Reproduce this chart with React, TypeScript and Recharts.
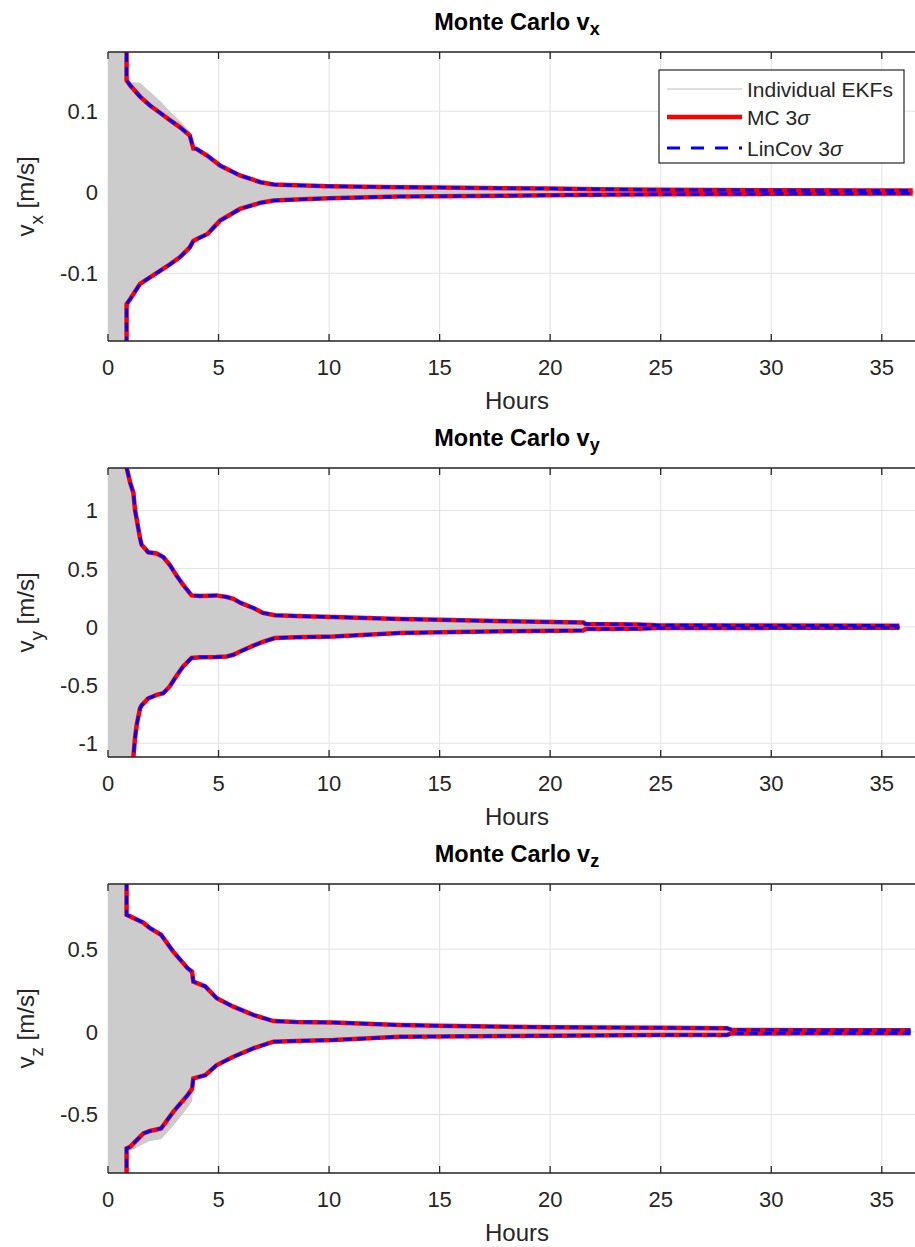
import React from 'react';
import { ComposedChart, Area, Line, XAxis, YAxis, CartesianGrid } from 'recharts';

const hourTicks = [0, 5, 10, 15, 20, 25, 30, 35];

// v_x : 3-sigma envelopes (m/s) against elapsed hours
const vxHours = [0, 0.84, 0.84, 1.0, 1.45, 1.9, 2.35, 2.8, 3.26, 3.7, 3.86, 4.0, 4.5, 5.07, 5.97, 6.9, 7.5, 8.5, 10, 13.2, 15, 18, 20, 22, 25, 30, 36.4];
const vxMcHi = [null, 0.5, 0.138, 0.132, 0.118, 0.107, 0.098, 0.089, 0.08, 0.07, 0.054, 0.0535, 0.045, 0.033, 0.0207, 0.0124, 0.0095, 0.0085, 0.0075, 0.0062, 0.0058, 0.005, 0.0045, 0.0038, 0.003, 0.0025, 0.002];
const vxMcLo = [null, -0.5, -0.138, -0.132, -0.113, -0.105, -0.097, -0.089, -0.08, -0.068, -0.06, -0.058, -0.0515, -0.035, -0.0206, -0.013, -0.0103, -0.009, -0.0075, -0.0053, -0.005, -0.0042, -0.0038, -0.003, -0.0025, -0.002, -0.0015];
const vxLinHi = [null, 0.5, 0.138, 0.132, 0.118, 0.107, 0.098, 0.089, 0.08, 0.07, 0.054, 0.0535, 0.045, 0.033, 0.0207, 0.0124, 0.0095, 0.0085, 0.0075, 0.0062, 0.0058, 0.005, 0.0045, 0.0038, 0.003, 0.0025, 0.002];
const vxLinLo = [null, -0.5, -0.138, -0.132, -0.113, -0.105, -0.097, -0.089, -0.08, -0.068, -0.06, -0.058, -0.0515, -0.035, -0.0206, -0.013, -0.0103, -0.009, -0.0075, -0.0053, -0.005, -0.0042, -0.0038, -0.003, -0.0025, -0.002, -0.0015];
const vxEkfHi = [1, 1, 0.138, 0.136, 0.135, 0.124, 0.113, 0.1, 0.088, 0.075, 0.058, 0.055, 0.045, 0.032, 0.02, 0.012, 0.009, 0.008, 0.007, 0.0058, 0.0054, 0.0046, 0.0042, 0.0035, 0.0028, 0.0022, 0.0018];
const vxEkfLo = [-1, -1, -0.138, -0.132, -0.113, -0.105, -0.097, -0.089, -0.08, -0.068, -0.06, -0.058, -0.0515, -0.034, -0.02, -0.0125, -0.0098, -0.0085, -0.007, -0.005, -0.0046, -0.0039, -0.0035, -0.0028, -0.0022, -0.0018, -0.0013];

// v_y
const vyHours = [0, 0.7, 0.84, 1.0, 1.15, 1.22, 1.3, 1.45, 1.52, 1.82, 2.2, 2.5, 2.8, 3.1, 3.4, 3.78, 4.16, 4.9, 5.37, 5.67, 6.0, 6.6, 7.0, 7.55, 8.5, 10.2, 13.2, 15, 18, 21.5, 21.6, 24, 24.8, 30, 35.8];
const vyMcHi = [null, 2.2, 1.37, 1.24, 1.149, 1.006, 0.92, 0.76, 0.705, 0.64, 0.63, 0.6, 0.53, 0.44, 0.36, 0.27, 0.265, 0.27, 0.256, 0.24, 0.205, 0.16, 0.12, 0.1, 0.092, 0.084, 0.067, 0.06, 0.048, 0.038, 0.025, 0.02, 0.013, 0.012, 0.01];
const vyMcLo = [null, -3, -2, -1.45, -1.113, -0.96, -0.84, -0.7, -0.675, -0.615, -0.585, -0.57, -0.51, -0.42, -0.34, -0.268, -0.262, -0.26, -0.254, -0.24, -0.21, -0.16, -0.13, -0.096, -0.09, -0.084, -0.053, -0.047, -0.038, -0.031, -0.019, -0.016, -0.011, -0.009, -0.008];
const vyLinHi = [null, 2.2, 1.37, 1.24, 1.149, 1.006, 0.92, 0.76, 0.705, 0.64, 0.63, 0.6, 0.53, 0.44, 0.36, 0.27, 0.265, 0.27, 0.256, 0.24, 0.205, 0.16, 0.12, 0.1, 0.092, 0.084, 0.067, 0.06, 0.048, 0.038, 0.025, 0.02, 0.013, 0.012, 0.01];
const vyLinLo = [null, -3, -2, -1.45, -1.113, -0.96, -0.84, -0.7, -0.675, -0.615, -0.585, -0.57, -0.51, -0.42, -0.34, -0.268, -0.262, -0.26, -0.254, -0.24, -0.21, -0.16, -0.13, -0.096, -0.09, -0.084, -0.053, -0.047, -0.038, -0.031, -0.019, -0.016, -0.011, -0.009, -0.008];
const vyEkfHi = [3, 2.2, 1.37, 1.24, 1.149, 1.0, 0.91, 0.75, 0.7, 0.63, 0.62, 0.59, 0.52, 0.43, 0.35, 0.26, 0.255, 0.26, 0.246, 0.23, 0.195, 0.15, 0.115, 0.095, 0.088, 0.08, 0.063, 0.056, 0.045, 0.035, 0.023, 0.018, 0.012, 0.011, 0.009];
const vyEkfLo = [-3, -3, -2, -1.45, -1.113, -0.95, -0.83, -0.69, -0.665, -0.6, -0.575, -0.56, -0.5, -0.41, -0.33, -0.26, -0.252, -0.25, -0.245, -0.23, -0.2, -0.152, -0.124, -0.092, -0.086, -0.08, -0.05, -0.044, -0.036, -0.029, -0.018, -0.015, -0.01, -0.008, -0.007];

// v_z
const vzHours = [0, 0.84, 0.84, 1.0, 1.6, 1.9, 2.4, 2.95, 3.6, 3.8, 3.86, 4.4, 4.92, 5.67, 6.57, 7.48, 8.5, 10.2, 13.2, 15, 20, 25, 28, 28.2, 32, 36.3];
const vzMcHi = [null, 1.5, 0.708, 0.698, 0.66, 0.627, 0.587, 0.485, 0.385, 0.364, 0.304, 0.275, 0.203, 0.152, 0.102, 0.065, 0.06, 0.057, 0.041, 0.036, 0.028, 0.024, 0.022, 0.012, 0.01, 0.009];
const vzMcLo = [null, -1.5, -0.706, -0.696, -0.615, -0.6, -0.585, -0.484, -0.383, -0.345, -0.282, -0.262, -0.201, -0.151, -0.1, -0.06, -0.055, -0.05, -0.03, -0.028, -0.024, -0.02, -0.019, -0.01, -0.009, -0.008];
const vzLinHi = [null, 1.5, 0.708, 0.698, 0.66, 0.627, 0.587, 0.485, 0.385, 0.364, 0.304, 0.275, 0.203, 0.152, 0.102, 0.065, 0.06, 0.057, 0.041, 0.036, 0.028, 0.024, 0.022, 0.012, 0.01, 0.009];
const vzLinLo = [null, -1.5, -0.706, -0.696, -0.615, -0.6, -0.585, -0.484, -0.383, -0.345, -0.282, -0.262, -0.201, -0.151, -0.1, -0.06, -0.055, -0.05, -0.03, -0.028, -0.024, -0.02, -0.019, -0.01, -0.009, -0.008];
const vzEkfHi = [1.5, 1.5, 0.7, 0.69, 0.65, 0.62, 0.58, 0.48, 0.38, 0.36, 0.3, 0.27, 0.2, 0.148, 0.098, 0.062, 0.057, 0.054, 0.038, 0.033, 0.025, 0.021, 0.019, 0.01, 0.008, 0.007];
const vzEkfLo = [-1.5, -1.5, -0.706, -0.72, -0.68, -0.66, -0.65, -0.57, -0.46, -0.42, -0.3, -0.26, -0.198, -0.148, -0.097, -0.058, -0.052, -0.047, -0.027, -0.025, -0.021, -0.017, -0.016, -0.008, -0.007, -0.006];

const vxTicks = [-0.1, 0, 0.1];
const vyTicks = [-1, -0.5, 0, 0.5, 1];
const vzTicks = [-0.5, 0, 0.5];

const AXIS = '#262626';
const GRID = '#e2e2e2';
const EKF = '#cccccc';
const MC = '#ff0000';
const LIN = '#0000ff';
const FONT = '"Liberation Sans", Arial, Helvetica, sans-serif';

const CHART_W = 940;
const CHART_H = 416;
const PLOT_TOP = 52;
const PLOT_BOTTOM = 341;
const Y_W = 108;
const AXES_CX = 517;

type Num = number | null;

function buildRows(hours: number[], ekfLo: number[], ekfHi: number[], mcLo: Num[], mcHi: Num[], linLo: Num[], linHi: Num[]) {
  return hours.map((t, i) => ({
    t,
    ekf: [ekfLo[i], ekfHi[i]],
    mcHi: mcHi[i],
    mcLo: mcLo[i],
    linHi: linHi[i],
    linLo: linLo[i],
  }));
}

// MATLAB-style ticks point into the axes box
const BottomTick = (props: any) => {
  const { x, payload } = props;
  return (
    <g>
      <line x1={x} x2={x} y1={PLOT_BOTTOM} y2={PLOT_BOTTOM - 7} stroke={AXIS} strokeWidth={1.3} />
      <text x={x} y={PLOT_BOTTOM + 34} textAnchor="middle" fontSize={22} fill={AXIS} fontFamily={FONT}>
        {payload.value}
      </text>
    </g>
  );
};

const TopTick = (props: any) => {
  const { x } = props;
  return <line x1={x} x2={x} y1={PLOT_TOP} y2={PLOT_TOP + 7} stroke={AXIS} strokeWidth={1.3} />;
};

// the left edge sits under the grey EKF spread, so only the labels show
const LeftTick = (props: any) => {
  const { y, payload } = props;
  return (
    <text x={Y_W - 10} y={y} dy="0.36em" textAnchor="end" fontSize={22} fill={AXIS} fontFamily={FONT}>
      {String(payload.value)}
    </text>
  );
};

interface PanelProps {
  top: number;
  sub: string;
  rows: ReturnType<typeof buildRows>;
  domain: [number, number];
  ticks: number[];
}

const Panel = ({ top, sub, rows, domain, ticks }: PanelProps) => {
  const cy = (PLOT_TOP + PLOT_BOTTOM) / 2;
  return (
    <div style={{ position: 'absolute', left: 0, top }}>
      <ComposedChart
        width={CHART_W}
        height={CHART_H}
        data={rows}
        margin={{ top: PLOT_TOP - 1, right: CHART_W - 926, bottom: CHART_H - PLOT_BOTTOM - 1, left: 0 }}
      >
        <CartesianGrid stroke={GRID} strokeWidth={1} />
        <XAxis
          dataKey="t"
          type="number"
          domain={[0, 37]}
          allowDataOverflow
          ticks={hourTicks}
          height={1}
          tickSize={0}
          tickMargin={0}
          tickLine={false}
          axisLine={{ stroke: AXIS, strokeWidth: 1.5 }}
          tick={<BottomTick />}
        />
        <XAxis
          xAxisId="top"
          orientation="top"
          dataKey="t"
          type="number"
          domain={[0, 37]}
          allowDataOverflow
          ticks={hourTicks}
          height={1}
          tickSize={0}
          tickMargin={0}
          tickLine={false}
          axisLine={{ stroke: AXIS, strokeWidth: 1.5 }}
          tick={<TopTick />}
        />
        <YAxis
          type="number"
          domain={domain}
          allowDataOverflow
          ticks={ticks}
          width={Y_W}
          tickSize={0}
          tickMargin={0}
          tickLine={false}
          axisLine={false}
          tick={<LeftTick />}
        />
        <Area
          dataKey="ekf"
          type="linear"
          fill={EKF}
          fillOpacity={1}
          stroke="none"
          isAnimationActive={false}
        />
        <Line dataKey="mcHi" type="linear" stroke={MC} strokeWidth={4.5} dot={false} isAnimationActive={false} />
        <Line dataKey="mcLo" type="linear" stroke={MC} strokeWidth={4.5} dot={false} isAnimationActive={false} />
        <Line dataKey="linHi" type="linear" stroke={LIN} strokeWidth={3} strokeDasharray="9 5" dot={false} isAnimationActive={false} />
        <Line dataKey="linLo" type="linear" stroke={LIN} strokeWidth={3} strokeDasharray="9 5" dot={false} isAnimationActive={false} />
        <text x={AXES_CX} y={PLOT_TOP - 22} textAnchor="middle" fontSize={23.5} fontWeight="bold" fill="#000" fontFamily={FONT}>
          Monte Carlo v
          <tspan fontSize={18} dy={5}>{sub}</tspan>
        </text>
        <text x={AXES_CX} y={PLOT_BOTTOM + 68} textAnchor="middle" fontSize={24} fill={AXIS} fontFamily={FONT}>
          Hours
        </text>
        <text
          x={34}
          y={cy}
          transform={`rotate(-90, 34, ${cy})`}
          textAnchor="middle"
          fontSize={24}
          fill={AXIS}
          fontFamily={FONT}
        >
          v<tspan fontSize={19} dy={9}>{sub}</tspan>
          <tspan dy={-9}> [m/s]</tspan>
        </text>
      </ComposedChart>
    </div>
  );
};

const LegendBox = () => (
  <svg width={250} height={100} style={{ position: 'absolute', left: 658, top: 69 }}>
    <rect x={1} y={1} width={245} height={93} fill="#fff" stroke={AXIS} strokeWidth={1.2} />
    <line x1={9} x2={84} y1={20} y2={20} stroke="#c0c0c0" strokeWidth={1.2} />
    <line x1={9} x2={84} y1={48} y2={48} stroke={MC} strokeWidth={4.5} />
    <line x1={9} x2={84} y1={79} y2={79} stroke={LIN} strokeWidth={3} strokeDasharray="13 11" />
    <g fontSize={21} fill={AXIS} fontFamily={FONT}>
      <text x={89} y={27.5}>Individual EKFs</text>
      <text x={89} y={55.5}>
        MC 3<tspan fontStyle="italic">σ</tspan>
      </text>
      <text x={89} y={86.5}>
        LinCov 3<tspan fontStyle="italic">σ</tspan>
      </text>
    </g>
  </svg>
);

const App = () => {
  const vxRows = buildRows(vxHours, vxEkfLo, vxEkfHi, vxMcLo, vxMcHi, vxLinLo, vxLinHi);
  const vyRows = buildRows(vyHours, vyEkfLo, vyEkfHi, vyMcLo, vyMcHi, vyLinLo, vyLinHi);
  const vzRows = buildRows(vzHours, vzEkfLo, vzEkfHi, vzMcLo, vzMcHi, vzLinLo, vzLinHi);

  return (
    <div
      style={{
        position: 'absolute',
        left: 0,
        top: 0,
        width: 915,
        height: 1247,
        overflow: 'hidden',
        background: '#fff',
      }}
    >
      <Panel top={0} sub="x" rows={vxRows} domain={[-0.1835, 0.173]} ticks={vxTicks} />
      <Panel top={416} sub="y" rows={vyRows} domain={[-1.118, 1.364]} ticks={vyTicks} />
      <Panel top={832} sub="z" rows={vzRows} domain={[-0.854, 0.894]} ticks={vzTicks} />
      <LegendBox />
    </div>
  );
};

export default App;
